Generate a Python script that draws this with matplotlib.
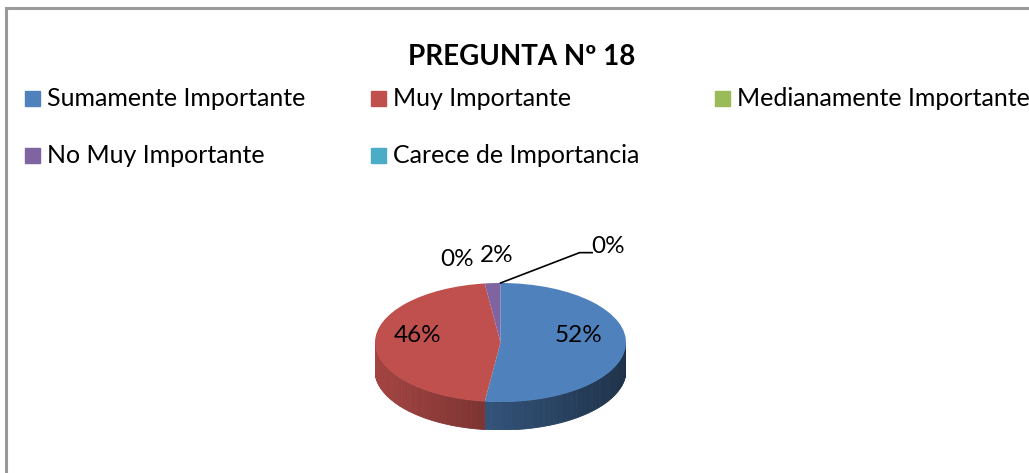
import numpy as np
import matplotlib.pyplot as plt
from matplotlib.collections import PolyCollection
from matplotlib.colors import to_rgb
from matplotlib.lines import Line2D
from matplotlib.patches import Rectangle

# datos de la encuesta
title = "PREGUNTA Nº 18"
categories = ["Sumamente Importante", "Muy Importante", "Medianamente Importante",
              "No Muy Importante", "Carece de Importancia"]
percentages = [52, 46, 0, 2, 0]
colors = ["#4F81BD", "#C0504D", "#9BBB59", "#8064A2", "#4BACC6"]

W, H = 1029, 473
FONT = ["Lato", "DejaVu Sans"]
plt.rcParams['font.family'] = FONT


def fx(px):
    return px / W


def fy(py):
    return 1 - py / H


fig = plt.figure(figsize=(W / 100, H / 100), dpi=100)

# marco del grafico
fig.add_artist(Line2D([fx(6), fx(6)], [fy(8), 0], color="#9a9a9a", lw=2.2))
fig.add_artist(Line2D([fx(6), 1], [fy(8), fy(8)], color="#9a9a9a", lw=2.2))

# titulo
fig.text(fx(522), fy(65), title, ha="center", va="baseline", fontsize=20, fontweight="bold")

# leyenda manual (3 columnas)
col_x = [25, 371, 715]
row_base = [106, 163]
for i, (cat, col) in enumerate(zip(categories, colors)):
    r, c = divmod(i, 3)
    x0 = col_x[c]
    yb = row_base[r]
    fig.add_artist(Rectangle((fx(x0), fy(yb)), fx(15), 15 / H, color=col,
                             transform=fig.transFigure))
    fig.text(fx(x0 + 22), fy(yb), cat, ha="left", va="baseline", fontsize=18)

# pastel 3D
depth = 0.47
ax = fig.add_axes([fx(375), fy(430), fx(626) - fx(375), (430 - 283) / H])
wedges, _ = ax.pie(percentages, colors=colors, startangle=90, counterclock=False,
                   radius=1, wedgeprops=dict(linewidth=0))
ax.set_aspect("auto")
ax.set_xlim(-1, 1)
ax.set_ylim(-1 - depth, 1)
ax.axis("off")

# paredes laterales visibles
cum = np.concatenate([[0], np.cumsum(percentages)]) / np.sum(percentages)
polys, fcols = [], []
for i, col in enumerate(colors):
    t_hi = 90 - cum[i] * 360
    t_lo = 90 - cum[i + 1] * 360
    a, b = max(t_lo, -180), min(t_hi, 0)
    if b <= a:
        continue
    th = np.radians(np.linspace(a, b, 80))
    base = np.array(to_rgb(col))
    for t1, t2 in zip(th[:-1], th[1:]):
        x1, y1, x2, y2 = np.cos(t1), np.sin(t1), np.cos(t2), np.sin(t2)
        polys.append([(x1, y1), (x2, y2), (x2, y2 - depth), (x1, y1 - depth)])
        xm = (x1 + x2) / 2
        fcols.append(np.clip(base * (0.62 - 0.23 * xm), 0, 1))
pc = PolyCollection(polys, facecolors=fcols, edgecolors=fcols, linewidths=0.6, zorder=0)
ax.add_collection(pc)
for w in wedges:
    w.set_zorder(2)

# etiquetas de porcentaje
label_pos = [(0.62, 0.11), (-0.66, 0.11), (-0.35, 1.40), (-0.03, 1.47), (0.86, 1.62)]
for p, (lx, ly) in zip(percentages, label_pos):
    ax.text(lx, ly, f"{p}%", ha="center", va="center", fontsize=17.5, clip_on=False, zorder=5)

# linea guia de la ultima etiqueta
ax.plot([0, 0.63, 0.73], [1.0, 1.51, 1.51], color="black", lw=1.2, clip_on=False, zorder=5)

fig.savefig("out.png", dpi=100)
